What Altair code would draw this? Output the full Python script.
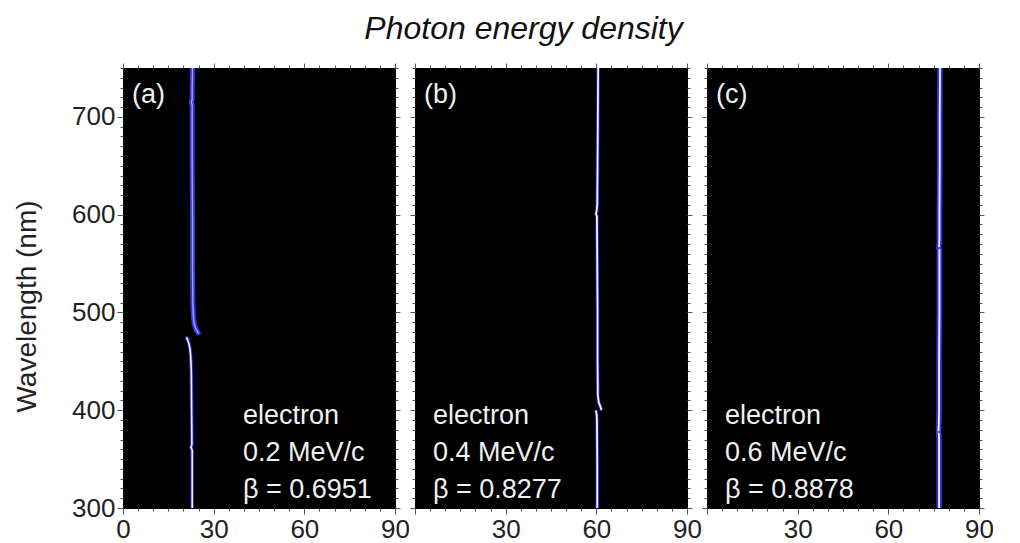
import altair as alt
import pandas as pd

# ---------------- data ----------------
panel_ids = ["a", "b", "c"]
panel_tags = ["(a)", "(b)", "(c)"]
particle = "electron"
momenta = ["0.2 MeV/c", "0.4 MeV/c", "0.6 MeV/c"]
betas = ["β = 0.6951", "β = 0.8277", "β = 0.8878"]

# ridge of photon energy density: wavelength (nm) vs angle (deg), per branch
a_seg1_wl = [750, 725, 718, 715, 712, 700, 650, 600, 550, 510, 495, 488, 484, 481, 479]
a_seg1_ang = [23.0, 22.9, 22.9, 22.6, 22.9, 22.9, 22.9, 23.0, 23.0, 23.1, 23.3, 23.6, 24.0, 24.5, 24.9]
a_seg2_wl = [474, 471, 467, 462, 455, 440, 400, 365, 362, 359, 340, 300]
a_seg2_ang = [21.1, 21.5, 21.9, 22.2, 22.4, 22.6, 22.7, 22.8, 22.5, 22.9, 22.9, 22.9]

b_seg1_wl = [750, 700, 650, 610, 604, 601, 598, 550, 500, 450, 415, 408, 404, 401]
b_seg1_ang = [60.6, 60.5, 60.4, 60.3, 60.1, 59.9, 60.2, 60.3, 60.4, 60.4, 60.5, 60.8, 61.3, 61.6]
b_seg2_wl = [399, 396, 390, 350, 300]
b_seg2_ang = [59.9, 60.1, 60.2, 60.3, 60.3]

c_seg1_wl = [750, 700, 650, 600, 575, 568, 566]
c_seg1_ang = [77.1, 77.0, 77.0, 76.9, 76.9, 76.8, 76.7]
c_seg2_wl = [564, 540, 500, 450, 400, 385, 378]
c_seg2_ang = [76.9, 76.9, 76.9, 76.8, 76.8, 76.7, 76.6]
c_seg3_wl = [376, 370, 350, 300]
c_seg3_ang = [76.7, 76.8, 76.8, 76.8]

curves = {
    "a": [(a_seg1_wl, a_seg1_ang), (a_seg2_wl, a_seg2_ang)],
    "b": [(b_seg1_wl, b_seg1_ang), (b_seg2_wl, b_seg2_ang)],
    "c": [(c_seg1_wl, c_seg1_ang), (c_seg2_wl, c_seg2_ang), (c_seg3_wl, c_seg3_ang)],
}

x_major = [0, 30, 60, 90]
x_minor = list(range(0, 95, 5))
y_major = [300, 400, 500, 600, 700]
y_minor = list(range(300, 751, 10))

# ---------------- styles ----------------
FONT = "Liberation Sans"
W, H = 272, 440
glow_style = {  # (glow colour, glow width, core colour, core width)
    ("a", 0): ("#3a3af6", 5, "#a0a0ff", 1.4),
    ("a", 1): ("#3030e0", 3.5, "#f2f2ff", 1.6),
    ("b", 0): ("#2828d8", 3.5, "#f4f4ff", 1.8),
    ("b", 1): ("#2828d8", 3.5, "#f4f4ff", 1.8),
    ("c", 0): ("#3a3af2", 5.5, "#f0f0ff", 1.8),
    ("c", 1): ("#3a3af2", 5.5, "#f0f0ff", 1.8),
    ("c", 2): ("#3a3af2", 5.5, "#f0f0ff", 1.8),
}
text_x = {"a": 120, "b": 18, "c": 18}

xs = alt.Scale(domain=[0, 90], nice=False, zero=False)
ys = alt.Scale(domain=[300, 750], nice=False, zero=False)

common_axis = dict(grid=False, domain=False, tickColor="#555555", tickWidth=1,
                   labelFont=FONT, labelFontSize=26, labelColor="#222222",
                   labelFlush=False, labelOverlap=False)


def build_panel(k):
    pid = panel_ids[k]
    rows = []
    for s, (wl, ang) in enumerate(curves[pid]):
        for i, (w_, a_) in enumerate(zip(wl, ang)):
            rows.append({"wl": w_, "angle": a_, "seg": s, "idx": i})
    df = pd.DataFrame(rows)
    base = alt.Chart(df)

    def enc(xaxis, yaxis):
        return dict(
            x=alt.X("angle:Q", scale=xs, axis=xaxis),
            y=alt.Y("wl:Q", scale=ys, axis=yaxis),
            detail="seg:N",
            order="idx:Q",
        )

    label_expr = "datum.label" if pid == "a" else "datum.value == 0 ? '' : datum.label"
    xb_major = alt.Axis(orient="bottom", values=x_major, tickSize=6, labelPadding=2,
                        labelExpr=label_expr, title=None, **common_axis)
    xb_minor = alt.Axis(orient="bottom", values=x_minor, tickSize=3, labels=False,
                        title=None, **common_axis)
    xt_major = alt.Axis(orient="top", values=x_major, tickSize=5, labels=False,
                        title=None, **common_axis)
    xt_minor = alt.Axis(orient="top", values=x_minor, tickSize=3, labels=False,
                        title=None, **common_axis)
    if pid == "a":
        yl_major = alt.Axis(orient="left", values=y_major, tickSize=6, labelPadding=2,
                            title="Wavelength (nm)", titleFont=FONT, titleFontSize=28,
                            titleFontWeight="normal", titleColor="#222222", titlePadding=30,
                            titleY=238, **common_axis)
    else:
        yl_major = alt.Axis(orient="left", values=y_major, tickSize=5, labels=False,
                            title=None, **common_axis)
    yl_minor = alt.Axis(orient="left", values=y_minor, tickSize=3, labels=False,
                        title=None, **common_axis)
    yr_major = alt.Axis(orient="right", values=y_major, tickSize=5, labels=False,
                        title=None, **common_axis)
    yr_minor = alt.Axis(orient="right", values=y_minor, tickSize=3, labels=False,
                        title=None, **common_axis)

    layers = [
        base.mark_line(opacity=0).encode(**enc(xb_major, yl_major)),
        base.mark_line(opacity=0).encode(**enc(xb_minor, yl_minor)),
        base.mark_line(opacity=0).encode(**enc(xt_major, yr_major)),
        base.mark_line(opacity=0).encode(**enc(xt_minor, yr_minor)),
    ]
    for s in range(len(curves[pid])):
        gcol, gw, ccol, cw = glow_style[(pid, s)]
        seg_base = base.transform_filter(alt.datum.seg == s)
        layers.append(seg_base.mark_line(color=gcol, strokeWidth=gw, opacity=0.9,
                                         strokeCap="round", clip=True)
                      .encode(**enc(None, None)))
        layers.append(seg_base.mark_line(color=ccol, strokeWidth=cw, strokeCap="round",
                                         clip=True)
                      .encode(**enc(None, None)))

    tag_df = pd.DataFrame({"t": [panel_tags[k]]})
    layers.append(alt.Chart(tag_df).mark_text(
        font=FONT, fontSize=27, color="#f0f0f0", align="left", baseline="middle")
        .encode(text="t:N", x=alt.value(9), y=alt.value(27)))

    note_df = pd.DataFrame({"t": [particle + "\n" + momenta[k] + "\n" + betas[k]]})
    layers.append(alt.Chart(note_df).mark_text(
        font=FONT, fontSize=27, color="#f0f0f0", align="left", baseline="alphabetic",
        lineBreak="\n", lineHeight=37)
        .encode(text="t:N", x=alt.value(text_x[pid]), y=alt.value(356)))

    return alt.layer(*layers).resolve_axis(x="independent", y="independent").properties(
        width=W, height=H)


chart = alt.hconcat(*[build_panel(k) for k in range(3)], spacing=20, bounds="flush").properties(
    title=alt.TitleParams("Photon energy density", font=FONT, fontSize=32,
                          fontStyle="italic", fontWeight="normal", color="#111111",
                          anchor="middle", offset=16, dx=20),
    padding={"left": 5, "top": 5, "right": 5, "bottom": 5},
).configure_view(fill="black", stroke="black")

chart.save("out.html", embed_options={"renderer": "svg", "actions": False})
